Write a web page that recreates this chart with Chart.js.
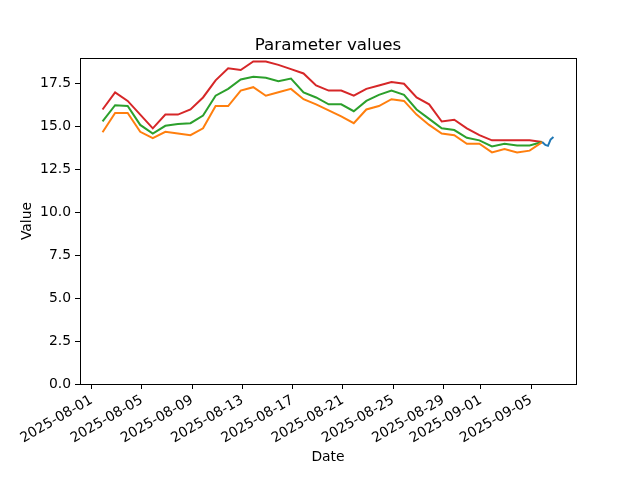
<!DOCTYPE html>
<html>
<head>
<meta charset="utf-8">
<script src="https://cdn.jsdelivr.net/npm/chart.js@4"></script>
<style>
  html, body { margin: 0; padding: 0; background: #fff; }
  #wrap { width: 640px; height: 480px; }
</style>
</head>
<body>
<div id="wrap"><canvas id="chart" width="640" height="480"></canvas></div>
<script>
const dates = [
    '2025-08-01T21:00', '2025-08-02T21:00', '2025-08-03T21:00', '2025-08-04T21:00',
    '2025-08-05T21:00', '2025-08-06T21:00', '2025-08-07T21:00', '2025-08-08T21:00',
    '2025-08-09T21:00', '2025-08-10T21:00', '2025-08-11T21:00', '2025-08-12T21:00',
    '2025-08-13T21:00', '2025-08-14T21:00', '2025-08-15T21:00', '2025-08-16T21:00',
    '2025-08-17T21:00', '2025-08-18T21:00', '2025-08-19T21:00', '2025-08-20T21:00',
    '2025-08-21T21:00', '2025-08-22T21:00', '2025-08-23T21:00', '2025-08-24T21:00',
    '2025-08-25T21:00', '2025-08-26T21:00', '2025-08-27T21:00', '2025-08-28T21:00',
    '2025-08-29T21:00', '2025-08-30T21:00', '2025-08-31T21:00', '2025-09-01T21:00',
    '2025-09-02T21:00', '2025-09-03T21:00', '2025-09-04T21:00', '2025-09-05T21:00'
];
const orangeValues = [14.67, 15.8, 15.8, 14.7, 14.33, 14.7, 14.6, 14.5, 14.9, 16.2,
    16.2, 17.1, 17.3, 16.8, 17.0, 17.2, 16.6, 16.3, 15.95, 15.6,
    15.2, 16.0, 16.2, 16.6, 16.5, 15.7, 15.1, 14.6, 14.5, 14.0,
    14.0, 13.5, 13.7, 13.5, 13.6, 14.1];
const greenValues = [15.3, 16.25, 16.2, 15.1, 14.6, 15.05, 15.15, 15.2, 15.65, 16.8,
    17.2, 17.75, 17.9, 17.85, 17.65, 17.8, 17.0, 16.7, 16.3, 16.3,
    15.9, 16.5, 16.85, 17.1, 16.85, 16.0, 15.45, 14.9, 14.8, 14.35,
    14.2, 13.85, 14.0, 13.9, 13.9, 14.1];
const redValues = [16.0, 17.0, 16.5, 15.7, 14.9, 15.7, 15.7, 16.0, 16.7, 17.7,
    18.4, 18.3, 18.8, 18.8, 18.6, 18.35, 18.1, 17.4, 17.1, 17.1,
    16.8, 17.2, 17.4, 17.6, 17.5, 16.7, 16.3, 15.3, 15.4, 14.9,
    14.5, 14.2, 14.2, 14.2, 14.2, 14.1];
const blueDates = ['2025-09-05T21:00', '2025-09-06T03:00', '2025-09-06T08:00', '2025-09-06T13:00', '2025-09-06T18:30'];
const blueValues = [14.1, 13.93, 13.88, 14.25, 14.4];

const xTickDates = ['2025-08-01', '2025-08-05', '2025-08-09', '2025-08-13', '2025-08-17',
    '2025-08-21', '2025-08-25', '2025-08-29', '2025-09-01', '2025-09-05'];
const yTicks = [0, 2.5, 5, 7.5, 10, 12.5, 15, 17.5];
const chartTitle = 'Parameter values';

// dates are placed on a linear axis as days since 2025-08-01
const origin = Date.UTC(2025, 7, 1);
const toDays = s => (Date.parse(s + (s.length > 10 ? ':00Z' : 'T00:00:00Z')) - origin) / 86400000;
const toLabel = d => new Date(origin + Math.round(d * 86400000)).toISOString().slice(0, 10);

const pts = (xs, ys) => xs.map((s, i) => ({ x: toDays(s), y: ys[i] }));

const xFirst = toDays(dates[0]);
const xLast = toDays(blueDates[blueDates.length - 1]);
const xPad = (xLast - xFirst) * 0.05;

// axes box on all four sides + title centred over the axes
const frame = {
    id: 'frame',
    afterDraw(chart) {
        const { ctx, chartArea: a } = chart;
        ctx.save();
        ctx.strokeStyle = '#000';
        ctx.lineWidth = 1;
        ctx.strokeRect(a.left + 0.5, a.top + 0.5, a.right - a.left, a.bottom - a.top);
        ctx.fillStyle = '#000';
        ctx.font = '16.7px "DejaVu Sans"';
        ctx.textAlign = 'center';
        ctx.textBaseline = 'alphabetic';
        ctx.fillText(chartTitle, (a.left + a.right) / 2, a.top - 8.3);
        ctx.restore();
    }
};

Chart.defaults.font.family = 'DejaVu Sans';
Chart.defaults.color = '#000';

const line = (data, color) => ({
    data: data,
    borderColor: color,
    backgroundColor: color,
    borderWidth: 2,
    pointRadius: 0,
    tension: 0,
    fill: false
});

new Chart(document.getElementById('chart'), {
    type: 'line',
    data: {
        datasets: [
            line(pts(blueDates, blueValues), '#1f77b4'),
            line(pts(dates, orangeValues), '#ff7f0e'),
            line(pts(dates, greenValues), '#2ca02c'),
            line(pts(dates, redValues), '#d62728')
        ]
    },
    options: {
        responsive: false,
        animation: false,
        layout: { padding: { left: 0, right: 64, top: 58, bottom: 0 } },
        plugins: {
            legend: { display: false },
            tooltip: { enabled: false },
            title: { display: false }
        },
        scales: {
            x: {
                type: 'linear',
                min: xFirst - xPad,
                max: xLast + xPad,
                afterBuildTicks: s => { s.ticks = xTickDates.map(d => ({ value: toDays(d) })); },
                afterFit: s => { s.height = 96; },
                ticks: {
                    autoSkip: false,
                    minRotation: 30,
                    maxRotation: 30,
                    padding: 3,
                    font: { size: 13.9 },
                    callback: v => toLabel(v)
                },
                grid: { drawOnChartArea: false, tickLength: 5, tickColor: '#000', tickWidth: 1 },
                border: { display: false },
                title: { display: true, text: 'Date', font: { size: 13.9 }, padding: { top: 4, bottom: 14 } }
            },
            y: {
                min: 0,
                max: 19.0,
                afterBuildTicks: s => { s.ticks = yTicks.map(v => ({ value: v })); },
                afterFit: s => { s.width = 80; },
                ticks: {
                    padding: 4,
                    font: { size: 13.9 },
                    callback: v => v.toFixed(1)
                },
                grid: { drawOnChartArea: false, tickLength: 5, tickColor: '#000', tickWidth: 1 },
                border: { display: false },
                title: { display: true, text: 'Value', font: { size: 13.9 }, padding: { top: 19, bottom: 0 } }
            }
        }
    },
    plugins: [frame]
});
</script>
</body>
</html>
